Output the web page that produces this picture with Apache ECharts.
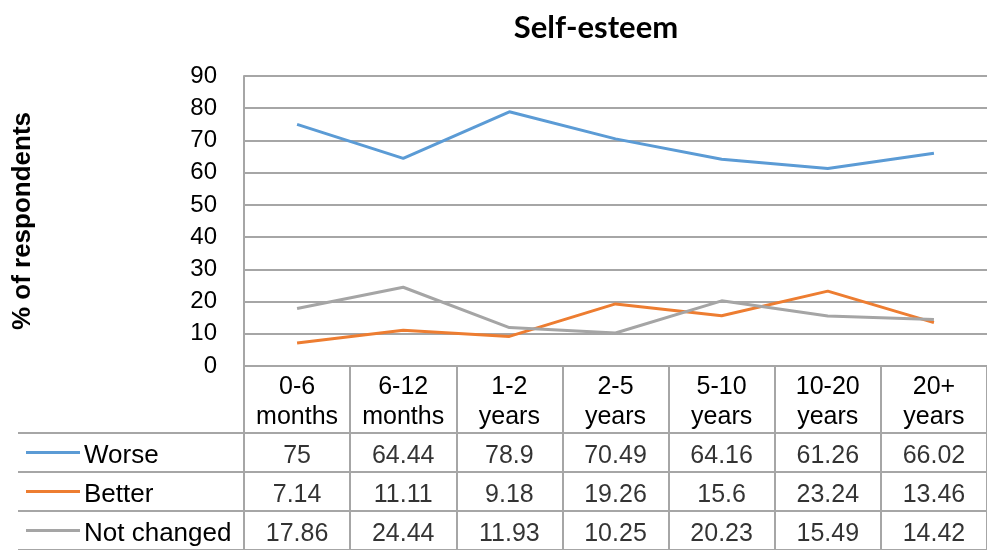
<!DOCTYPE html>
<html>
<head>
<meta charset="utf-8">
<script src="https://cdn.jsdelivr.net/npm/echarts@6/dist/echarts.min.js"></script>
<style>
  html, body { margin: 0; padding: 0; background: #fff; }
  #chart { width: 987px; height: 550px; }
</style>
</head>
<body>
<div id="chart"></div>
<script>
var categories = ['0-6\nmonths', '6-12\nmonths', '1-2\nyears', '2-5\nyears', '5-10\nyears', '10-20\nyears', '20+\nyears'];
var seriesNames = ['Worse', 'Better', 'Not changed'];
var worse = [75, 64.44, 78.9, 70.49, 64.16, 61.26, 66.02];
var better = [7.14, 11.11, 9.18, 19.26, 15.6, 23.24, 13.46];
var notChanged = [17.86, 24.44, 11.93, 10.25, 20.23, 15.49, 14.42];
var colors = ['#5b9bd5', '#ed7d31', '#a5a5a5'];

var values = [worse, better, notChanged];
var font = "'Liberation Sans', Arial, sans-serif";
var gridColor = '#a6a6a6';

var dom = document.getElementById('chart');
var myChart = echarts.init(dom, null, { renderer: 'canvas' });

// line series on the plot grid
var lines = seriesNames.map(function (name, i) {
  return {
    name: name,
    type: 'line',
    xAxisIndex: 0,
    yAxisIndex: 0,
    data: values[i],
    symbol: 'none',
    lineStyle: { width: 3, color: colors[i] },
    itemStyle: { color: colors[i] },
    silent: true
  };
});

// data table cells
var cells = seriesNames.map(function (name, i) {
  return {
    type: 'scatter',
    xAxisIndex: 1,
    yAxisIndex: 1,
    symbolSize: 0,
    silent: true,
    data: values[i].map(function (v, j) { return [j, name, v]; }),
    label: {
      show: true,
      position: 'inside',
      offset: [0, 4],
      formatter: function (p) { return String(p.value[2]); },
      color: '#000',
      fontFamily: font,
      fontSize: 25
    }
  };
});

var rich = { txt: { fontFamily: font, fontSize: 26, color: '#000', padding: [6, 0, 0, 4] } };
seriesNames.forEach(function (n, i) {
  rich['l' + i] = { width: 54, height: 3, backgroundColor: colors[i] };
});

var option = {
  animation: false,
  title: {
    text: 'Self-esteem',
    left: 591,
    top: 7,
    textAlign: 'center',
    textStyle: { fontFamily: 'Lato, sans-serif', fontWeight: 'bold', fontSize: 31, color: '#000' }
  },
  grid: [
    { left: 244, top: 76, width: 751, height: 290 },
    { left: 244, top: 433, width: 751, height: 120 }
  ],
  xAxis: [
    {
      type: 'category',
      gridIndex: 0,
      data: categories,
      boundaryGap: true,
      axisLine: { lineStyle: { color: gridColor, width: 2 } },
      axisTick: { show: true, interval: 0, length: 67, lineStyle: { color: gridColor, width: 2 } },
      axisLabel: { interval: 0, hideOverlap: false, color: '#000', fontFamily: font, fontSize: 25, lineHeight: 30, margin: 6 },
      splitLine: { show: false }
    },
    {
      type: 'category',
      gridIndex: 1,
      data: categories,
      boundaryGap: true,
      axisLine: { show: false },
      axisTick: { show: false },
      axisLabel: { show: false },
      splitLine: { show: true, interval: 0, lineStyle: { color: gridColor, width: 2 } }
    }
  ],
  yAxis: [
    {
      type: 'value',
      gridIndex: 0,
      min: 0,
      max: 90,
      interval: 10,
      name: '% of respondents',
      nameLocation: 'middle',
      nameRotate: 90,
      nameGap: 208,
      nameTextStyle: { fontFamily: font, fontWeight: 'bold', fontSize: 26, color: '#000' },
      axisLine: { show: true, lineStyle: { color: gridColor, width: 2 } },
      axisTick: { show: false },
      axisLabel: { color: '#000', fontFamily: font, fontSize: 24, margin: 27 },
      splitLine: { show: true, lineStyle: { color: gridColor, width: 2 } }
    },
    {
      type: 'category',
      gridIndex: 1,
      inverse: true,
      data: seriesNames,
      axisLine: { show: true, lineStyle: { color: gridColor, width: 2 } },
      axisTick: { show: true, interval: 0, length: 226, lineStyle: { color: gridColor, width: 2 } },
      axisLabel: {
        interval: 0,
        align: 'left',
        margin: 218,
        formatter: function (v) {
          var i = seriesNames.indexOf(v);
          return '{l' + i + '|}{txt|' + v + '}';
        },
        rich: rich
      },
      splitLine: { show: true, interval: 0, lineStyle: { color: gridColor, width: 2 } }
    },
    {
      type: 'category',
      gridIndex: 1,
      inverse: true,
      data: seriesNames,
      offset: 226,
      axisLine: { show: true, lineStyle: { color: gridColor, width: 2 } },
      axisTick: { show: false },
      axisLabel: { show: false },
      splitLine: { show: false }
    }
  ],
  series: lines.concat(cells)
};

if (option && typeof option === 'object') {
  myChart.setOption(option);
}

window.addEventListener('resize', myChart.resize);
</script>
</body>
</html>
